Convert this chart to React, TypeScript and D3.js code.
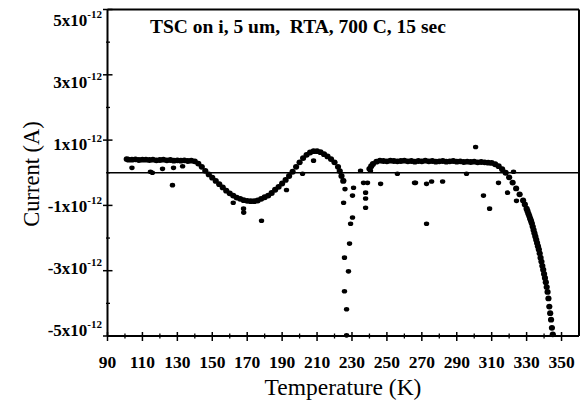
import React from "react";
import * as d3 from "d3";

// Main (dense) curve, temperature in K, current in units of 1e-12 A
const curveT = [101, 102, 104, 106, 108, 110, 112, 114, 116, 118, 120, 122, 124, 126, 128, 130, 132, 134, 136, 138, 140,
  142, 144, 146, 148, 150, 152, 154, 156, 158, 160, 162, 164, 166, 168, 170, 172, 174, 176, 178, 180,
  182, 184, 186, 188, 190, 192, 194, 196, 198, 200, 202, 204, 206, 208, 210, 212, 214, 216, 218, 220, 222, 223, 224, 225,
  240, 241, 242, 244, 246, 248, 250, 252, 254, 256, 258, 260, 262, 264, 266, 268, 270, 272, 274, 276, 278, 280,
  282, 284, 286, 288, 290, 292, 294, 296, 298, 300, 302, 304, 306, 308, 310, 312, 314, 316, 318, 320,
  322, 324, 326, 328, 329, 330, 330.5, 331, 331.5, 332, 332.5, 333, 333.5, 334, 334.5, 335, 335.5, 336, 336.5, 337, 337.5,
  338, 338.5, 339, 339.5, 340, 340.5, 341, 341.5, 342, 342.5, 343, 343.5, 344, 344.5, 345];
const curveI = [0.42, 0.4, 0.4, 0.41, 0.39, 0.4, 0.4, 0.39, 0.4, 0.38, 0.39, 0.4, 0.38, 0.39, 0.37, 0.38, 0.37, 0.38, 0.36, 0.37, 0.35,
  0.28, 0.18, 0.06, -0.05, -0.15, -0.25, -0.35, -0.45, -0.55, -0.63, -0.7, -0.76, -0.8, -0.84, -0.86, -0.87, -0.87, -0.85, -0.8, -0.75,
  -0.7, -0.62, -0.52, -0.43, -0.33, -0.22, -0.1, 0.03, 0.18, 0.32, 0.45, 0.55, 0.62, 0.66, 0.66, 0.63, 0.57, 0.5, 0.42, 0.32, 0.18, 0.05, -0.1, -0.25,
  0.12, 0.2, 0.27, 0.34, 0.37, 0.36, 0.35, 0.37, 0.36, 0.35, 0.36, 0.37, 0.35, 0.36, 0.34, 0.36, 0.35, 0.37, 0.35, 0.36, 0.34, 0.35,
  0.36, 0.34, 0.35, 0.36, 0.34, 0.35, 0.33, 0.34, 0.33, 0.34, 0.32, 0.33, 0.32, 0.31, 0.3, 0.26, 0.2, 0.11, 0.0, -0.14,
  -0.3, -0.48, -0.66, -0.85, -0.97, -1.1, -1.17, -1.25, -1.32, -1.4, -1.47, -1.55, -1.65, -1.75, -1.85, -1.95, -2.05, -2.15, -2.25, -2.35, -2.47,
  -2.6, -2.72, -2.85, -2.97, -3.1, -3.22, -3.35, -3.5, -3.65, -3.85, -4.1, -4.3, -4.5, -4.75, -4.95];

// Scattered points
const scatterT = [104, 114.6, 115.7, 121.5, 127.2, 127.8, 133, 162, 167.9, 168, 178.2, 192.5, 201.7, 208,
  225.2, 225.2, 226, 230.3, 230.3, 230.9, 234.9, 236.6, 237.8, 237.8, 237.8, 238.9, 240.6, 246.4,
  229.2, 228.6, 225.7, 228, 225.7, 226.9, 226.9,
  256, 265.8, 266.4, 272.7, 275.6, 281.9, 295.6, 300.8, 305.3, 308.8, 313.9, 319.1, 324.2, 322.5, 272.7];
const scatterI = [0.15, 0.03, 0.0, 0.12, -0.38, 0.15, 0.2, -0.92, -1.1, -1.22, -1.47, -0.53, -0.03, 0.37,
  -0.92, -0.24, -0.5, -1.37, -0.7, -0.46, 0.06, -0.31, -0.61, -0.79, -1.07, -0.31, 0.06, -0.34,
  -1.56, -2.17, -2.6, -3.02, -3.63, -4.18, -4.98,
  -0.03, -0.31, -0.31, -0.34, -0.27, -0.27, -0.03, 0.79, -0.7, -1.1, -0.31, -0.61, -0.86, 0.03, -1.56];

const xMajor = [90, 110, 130, 150, 170, 190, 210, 230, 250, 270, 290, 310, 330, 350];
const xMinor = [100, 120, 140, 160, 180, 200, 220, 240, 260, 280, 300, 320, 340];
const yMajor = [5, 3, 1, -1, -3, -5];
const yMinor = [4, 2, 0, -2, -4];

const title = "TSC on i, 5 um,  RTA, 700 C, 15 sec";

export default function App() {
  const left = 107.5, right = 579, top = 9.5, bottom = 336;
  const x = d3.scaleLinear().domain([90, 360]).range([left, right]);
  const y = d3.scaleLinear().domain([-5, 5]).range([bottom, top]);
  const yLab = d3.scaleLinear().domain([-5, 5]).range([330, 20]);
  const serif = "'Liberation Serif', 'Times New Roman', serif";

  const curvePts = curveT.map((t, i) => [t, curveI[i]]);
  const scatPts = scatterT.map((t, i) => [t, scatterI[i]]);

  return (
    <svg width={584} height={401} style={{ position: "absolute", left: 0, top: 0, background: "#fff" }}>
      <rect x={0} y={0} width={584} height={401} fill="#fff" />
      {/* frame */}
      <line x1={left} x2={right} y1={top} y2={top} stroke="#000" strokeWidth={2} />
      <line x1={right} x2={right} y1={top} y2={bottom} stroke="#000" strokeWidth={2} />
      <line x1={left} x2={left} y1={top} y2={bottom} stroke="#000" strokeWidth={2} />
      <line x1={left} x2={right} y1={bottom} y2={bottom} stroke="#000" strokeWidth={2} />
      {/* zero line */}
      <line x1={left} x2={right} y1={y(0)} y2={y(0)} stroke="#000" strokeWidth={1.5} />
      {/* x ticks */}
      {xMajor.map((t) => (
        <line key={"xM" + t} x1={x(t)} x2={x(t)} y1={bottom - 4} y2={bottom + 5} stroke="#000" strokeWidth={1.5} />
      ))}
      {xMinor.map((t) => (
        <line key={"xm" + t} x1={x(t)} x2={x(t)} y1={bottom - 2.5} y2={bottom + 2.5} stroke="#000" strokeWidth={1.3} />
      ))}
      {xMajor.map((t) => (
        <text key={"xl" + t} x={x(t)} y={368} textAnchor="middle" fontFamily={serif} fontWeight="bold" fontSize={17.5}>{t}</text>
      ))}
      {/* y ticks */}
      {yMajor.map((v) => (
        <line key={"yM" + v} x1={left - 4.5} x2={left + 5} y1={y(v)} y2={y(v)} stroke="#000" strokeWidth={1.5} />
      ))}
      {yMinor.map((v) => (
        <line key={"ym" + v} x1={left - 1.5} x2={left + 2.5} y1={y(v)} y2={y(v)} stroke="#000" strokeWidth={1.3} />
      ))}
      {yMajor.map((v) => (
        <text key={"yl" + v} x={102} y={yLab(v)} dy="0.35em" textAnchor="end" fontFamily={serif} fontWeight="bold" fontSize={17}>
          {v + "x10"}
          <tspan fontSize={11} dy="-0.75em">-12</tspan>
        </text>
      ))}
      {/* axis titles */}
      <text x={343} y={395} textAnchor="middle" fontFamily={serif} fontSize={23.5}>Temperature (K)</text>
      <text transform={`translate(39,174) rotate(-90)`} textAnchor="middle" fontFamily={serif} fontSize={22.5}>Current (A)</text>
      {/* chart title */}
      <text x={150} y={33} fontFamily={serif} fontWeight="bold" fontSize={19.5} style={{ whiteSpace: "pre" }}>{title}</text>
      {/* data */}
      {curvePts.map((p, i) => (
        <ellipse key={"c" + i} cx={x(p[0])} cy={y(p[1])} rx={3.1} ry={2.9} fill="#000" />
      ))}
      {scatPts.map((p, i) => (
        <ellipse key={"s" + i} cx={x(p[0])} cy={y(p[1])} rx={2.7} ry={2.3} fill="#000" />
      ))}
    </svg>
  );
}
